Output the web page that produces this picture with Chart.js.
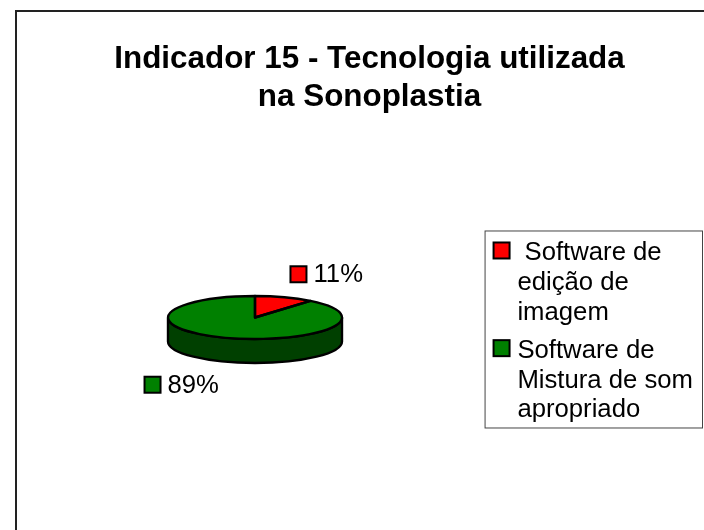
<!DOCTYPE html>
<html lang="pt">
<head>
    <meta charset="UTF-8">
    <title>Indicador 15</title>
    <script src="https://cdn.jsdelivr.net/npm/chart.js"></script>
    <style>
        html, body { margin: 0; background: #fff; overflow: hidden; }
        #wrap { position: relative; width: 704px; height: 530px; }
        #frame { position: absolute; left: 15px; top: 10px; width: 720px; height: 560px; border: 2px solid #222; box-sizing: border-box; }
        canvas { position: absolute; left: 0; top: 0; }
    </style>
</head>
<body>
    <div id="wrap">
        <div id="frame"></div>
        <canvas id="chart" width="704" height="530"></canvas>
    </div>

    <script>
        const titleLines = ['Indicador 15 - Tecnologia utilizada', 'na Sonoplastia'];
        const categories = [[' Software de', 'edição de', 'imagem'], ['Software de', 'Mistura de som', 'apropriado']];
        const values = [11, 89];
        const colors = ['#ff0000', '#008000'];
        const wallColors = ['#800000', '#004000'];

        // the reference is a tilted pie, so the flat one gets squashed onto this ellipse
        const pie = { x: 255, y: 317.5, rx: 87, ry: 21.5, depth: 24 };
        // offset of each value label from the rim point at the middle of its slice
        const labelOffsets = [[14, -23], [-73, 47]];
        const keySize = 16;
        const legendFrameHeight = 197;

        function tilt(ctx, arc) {
            ctx.translate(pie.x, pie.y);
            ctx.scale(1, pie.ry / pie.rx);
            ctx.translate(-arc.x, -arc.y);
        }

        function drawKey(ctx, x, y, color) {
            ctx.fillStyle = color;
            ctx.fillRect(x, y, keySize, keySize);
            ctx.strokeStyle = '#000';
            ctx.lineWidth = 2;
            ctx.strokeRect(x, y, keySize, keySize);
        }

        const tiltedPie = {
            id: 'tiltedPie',
            beforeDatasetsDraw(chart) {
                const ctx = chart.ctx;
                const arcs = chart.getDatasetMeta(0).data;
                ctx.save();
                ctx.lineWidth = 2.4;
                ctx.strokeStyle = '#000';
                arcs.forEach((arc, i) => {
                    // only the front half of the rim shows a wall
                    const a = Math.max(arc.startAngle, 0);
                    const b = Math.min(arc.endAngle, Math.PI);
                    if (a >= b) return;
                    ctx.beginPath();
                    ctx.ellipse(pie.x, pie.y, pie.rx, pie.ry, 0, a, b);
                    ctx.ellipse(pie.x, pie.y + pie.depth, pie.rx, pie.ry, 0, b, a, true);
                    ctx.closePath();
                    ctx.fillStyle = wallColors[i];
                    ctx.fill();
                    ctx.stroke();
                });
                ctx.restore();
                ctx.save();
                tilt(ctx, arcs[0]);
            },
            afterDatasetsDraw(chart) {
                const ctx = chart.ctx;
                const arcs = chart.getDatasetMeta(0).data;
                ctx.restore();
                ctx.save();
                ctx.lineWidth = 2.4;
                ctx.strokeStyle = '#000';
                ctx.lineJoin = 'round';
                arcs.forEach(arc => {
                    ctx.save();
                    tilt(ctx, arc);
                    ctx.beginPath();
                    ctx.moveTo(arc.x, arc.y);
                    ctx.arc(arc.x, arc.y, arc.outerRadius, arc.startAngle, arc.endAngle);
                    ctx.closePath();
                    ctx.restore();
                    ctx.stroke();
                });
                ctx.restore();
            },
            afterDraw(chart) {
                const ctx = chart.ctx;
                const legend = chart.legend;
                ctx.save();
                // legend frame
                ctx.strokeStyle = '#444';
                ctx.lineWidth = 1;
                ctx.strokeRect(legend.left + 0.5, legend.top - 0.5, legend.width - 1, legendFrameHeight);
                // legend keys are wider than the gap the library leaves before the text
                legend.legendHitBoxes.forEach((box, i) => {
                    drawKey(ctx, box.left, box.top + 2, colors[i]);
                });
                // value labels with their colour key
                ctx.font = '25.7px "Liberation Sans"';
                ctx.textBaseline = 'middle';
                chart.getDatasetMeta(0).data.forEach((arc, i) => {
                    const mid = (arc.startAngle + arc.endAngle) / 2;
                    const kx = pie.x + pie.rx * Math.cos(mid) + labelOffsets[i][0];
                    const ky = pie.y + pie.ry * Math.sin(mid) + labelOffsets[i][1];
                    drawKey(ctx, kx - keySize / 2, ky - keySize / 2, colors[i]);
                    ctx.fillStyle = '#000';
                    ctx.fillText(values[i] + '%', kx + 15, ky + 1);
                });
                ctx.restore();
            }
        };

        new Chart(document.getElementById('chart'), {
            type: 'pie',
            data: {
                labels: categories,
                datasets: [{
                    data: values,
                    backgroundColor: colors,
                    borderWidth: 0,
                    clip: false
                }]
            },
            plugins: [tiltedPie],
            options: {
                responsive: false,
                animation: false,
                radius: pie.rx,
                layout: { padding: { left: 36, right: 1, top: 40, bottom: 90 } },
                plugins: {
                    title: {
                        display: true,
                        text: titleLines,
                        color: '#000',
                        font: { family: '"Liberation Sans"', size: 31.4, weight: 'bold', lineHeight: 1.21 },
                        padding: { top: 0, bottom: 115.5 }
                    },
                    legend: {
                        position: 'right',
                        align: 'start',
                        fullSize: false,
                        labels: {
                            color: '#000',
                            font: { family: '"Liberation Sans"', size: 25.7, lineHeight: 1.15 },
                            boxWidth: 11,
                            boxHeight: 11,
                            padding: 9,
                            generateLabels(chart) {
                                return categories.map((text, i) => ({
                                    text: text,
                                    fillStyle: 'transparent',
                                    strokeStyle: 'transparent',
                                    lineWidth: 0,
                                    index: i
                                }));
                            }
                        }
                    },
                    tooltip: { enabled: false }
                }
            }
        });
    </script>
</body>
</html>
